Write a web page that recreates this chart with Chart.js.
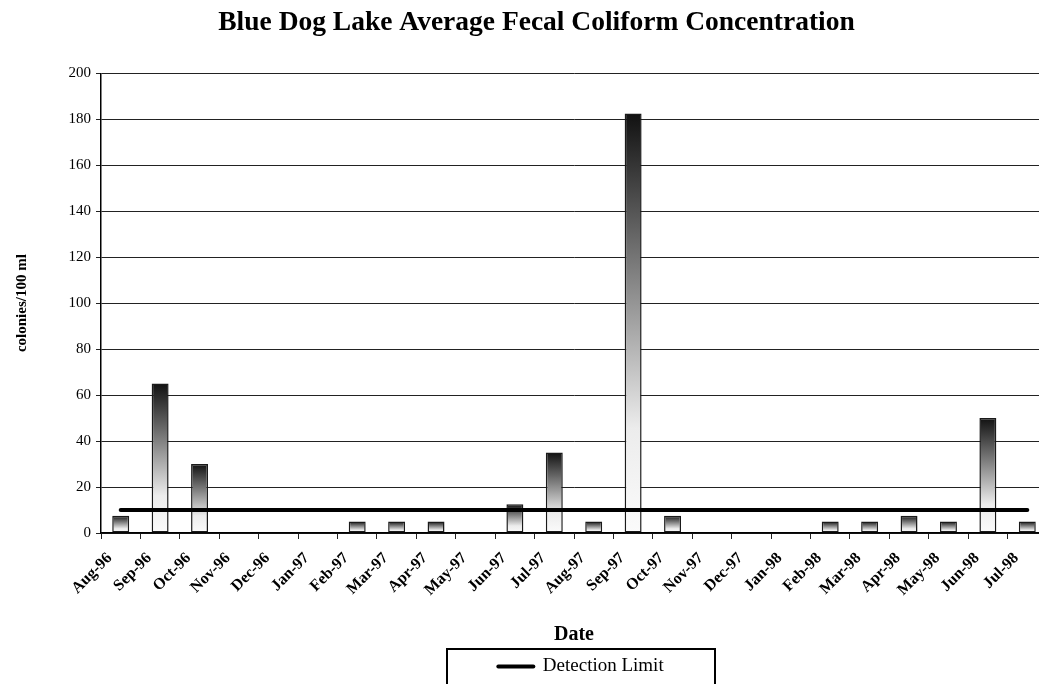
<!DOCTYPE html>
<html>
<head>
<meta charset="utf-8">
<script src="https://cdn.jsdelivr.net/npm/chart.js@4"></script>
<style>
  body { margin: 0; background: #fff; }
  #wrap { position: relative; width: 1039px; height: 684px; overflow: hidden; }
  #grafico { position: absolute; left: 0; top: 0; }
</style>
</head>
<body>
<div id="wrap">
  <canvas id="grafico" width="1060" height="706"></canvas>
</div>
<script>
// Meses de muestreo
const months = ['Aug-96', 'Sep-96', 'Oct-96', 'Nov-96', 'Dec-96', 'Jan-97', 'Feb-97', 'Mar-97',
  'Apr-97', 'May-97', 'Jun-97', 'Jul-97', 'Aug-97', 'Sep-97', 'Oct-97', 'Nov-97',
  'Dec-97', 'Jan-98', 'Feb-98', 'Mar-98', 'Apr-98', 'May-98', 'Jun-98', 'Jul-98'];

// Coliformes fecales promedio (colonias/100 ml)
const coliform = [7.5, 65, 30, 0, 0, 0, 5, 5, 5, 0, 12.5, 35,
  5, 182.5, 7.5, 0, 0, 0, 5, 5, 7.5, 5, 50, 5];

// Limite de deteccion
const detectionLimit = [10, 10, 10, 10, 10, 10, 10, 10, 10, 10, 10, 10,
  10, 10, 10, 10, 10, 10, 10, 10, 10, 10, 10, 10];

// Marcas del eje y
const yTicks = [0, 20, 40, 60, 80, 100, 120, 140, 160, 180, 200];

const serif = '"Liberation Serif", "Times New Roman", serif';

// Degradado oscuro arriba, claro abajo, uno por barra
function barGradient(context) {
  const chart = context.chart;
  if (!chart.chartArea || context.type !== 'data') return '#888';
  const y = chart.scales.y;
  const top = y.getPixelForValue(context.raw);
  const bottom = y.getPixelForValue(0);
  if (bottom - top < 1) return '#fff';
  const g = chart.ctx.createLinearGradient(0, top, 0, bottom);
  g.addColorStop(0, '#111');
  g.addColorStop(0.75, '#ececec');
  g.addColorStop(1, '#fbfbfb');
  return g;
}

// Mueve la leyenda y le pone el marco
const legendBox = {
  id: 'legendBox',
  afterLayout(chart) {
    const lg = chart.legend;
    lg.left += 44.5;
    lg.right += 44.5;
  },
  afterDraw(chart) {
    const lg = chart.legend;
    const cx = (lg.left + lg.right) / 2;
    const c = chart.ctx;
    c.save();
    c.strokeStyle = '#000';
    c.lineWidth = 2;
    c.strokeRect(cx - 134, lg.top + 2, 268, 60);
    c.restore();
  }
};

const ctx = document.getElementById('grafico').getContext('2d');
new Chart(ctx, {
  data: {
    labels: months,
    datasets: [{
      type: 'line',
      label: 'Detection Limit',
      data: detectionLimit,
      borderColor: '#000',
      borderWidth: 4,
      borderCapStyle: 'round',
      pointRadius: 0,
      order: 1
    }, {
      type: 'bar',
      label: 'Coliform',
      data: coliform,
      backgroundColor: barGradient,
      borderColor: '#1a1a1a',
      borderWidth: 1.5,
      borderSkipped: false,
      categoryPercentage: 1,
      barPercentage: 0.43,
      order: 2
    }]
  },
  options: {
    responsive: false,
    animation: false,
    layout: { padding: { left: 13, right: 0, top: 0, bottom: 20 } },
    plugins: {
      title: {
        display: true,
        text: 'Blue Dog Lake Average Fecal Coliform Concentration',
        color: '#000',
        font: { family: serif, size: 27.5, weight: 'bold' },
        padding: { top: 6, bottom: 34.3 }
      },
      legend: {
        position: 'bottom',
        labels: {
          color: '#000',
          font: { family: serif, size: 19 },
          usePointStyle: true,
          pointStyleWidth: 35,
          generateLabels: () => [{
            text: 'Detection Limit',
            fillStyle: '#000',
            strokeStyle: '#000',
            lineWidth: 4,
            lineCap: 'round',
            pointStyle: 'line',
            hidden: false,
            datasetIndex: 0
          }]
        }
      },
      tooltip: { enabled: false }
    },
    scales: {
      x: {
        offset: true,
        grid: { display: true, drawOnChartArea: false, drawTicks: true, tickLength: 6, color: '#222', offset: true },
        border: { color: '#000', width: 1.5 },
        ticks: {
          autoSkip: false,
          minRotation: 45,
          maxRotation: 45,
          labelOffset: -11,
          padding: 10,
          color: '#000',
          font: { family: serif, size: 16, weight: 'bold' }
        },
        title: {
          display: true,
          text: 'Date',
          color: '#000',
          font: { family: serif, size: 20, weight: 'bold' },
          padding: { top: 0, bottom: 0 }
        },
        afterFit: (s) => { s.height = 114; s.paddingRight = 13; }
      },
      y: {
        min: 0,
        max: 200,
        afterBuildTicks: (s) => { s.ticks = yTicks.map(v => ({ value: v })); },
        grid: { color: '#222', lineWidth: 1, tickLength: 5 },
        border: { color: '#000', width: 1.5 },
        ticks: {
          padding: 5,
          color: '#000',
          font: { family: serif, size: 15 }
        },
        title: {
          display: true,
          text: 'colonies/100 ml',
          color: '#000',
          font: { family: serif, size: 15, weight: 'bold' },
          padding: { top: 0, bottom: 0 }
        },
        afterFit: (s) => { s.width = 88; }
      }
    }
  },
  plugins: [legendBox]
});
</script>
</body>
</html>
